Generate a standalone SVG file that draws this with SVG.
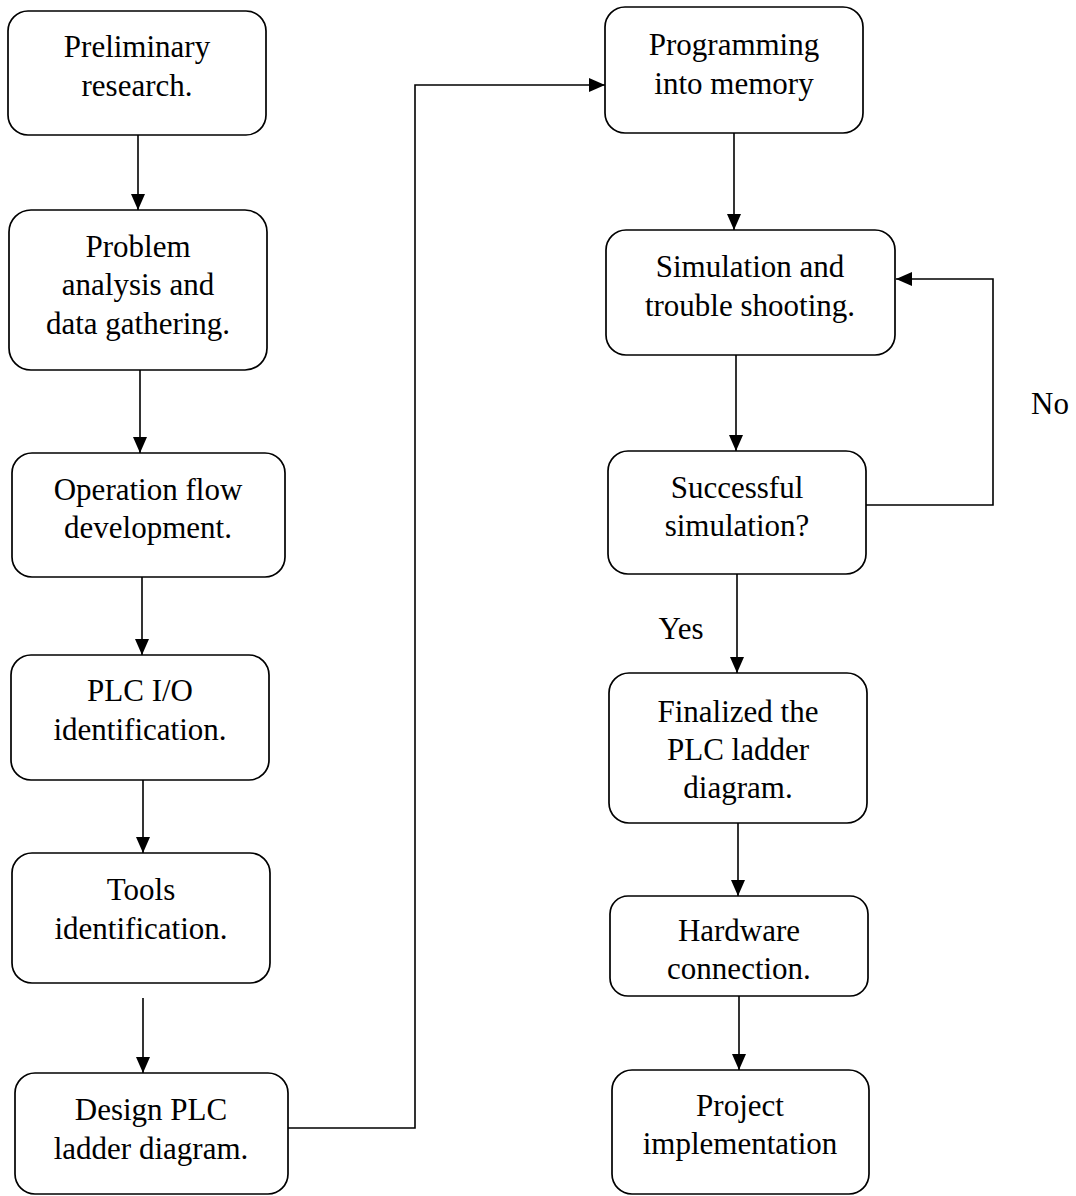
<svg xmlns="http://www.w3.org/2000/svg" width="1076" height="1196" viewBox="0 0 1076 1196">
<style>
.box{fill:#fff;stroke:#000;stroke-width:1.7}
.t{font-family:"Liberation Serif","Times New Roman",serif;font-size:31px;fill:#000;text-anchor:middle}
.c{fill:none;stroke:#000;stroke-width:1.6}
</style>
<defs>
<marker id="ah" viewBox="0 0 16 14" refX="16" refY="7" markerWidth="16" markerHeight="14" markerUnits="userSpaceOnUse" orient="auto">
<path d="M0,0 L16,7 L0,14 Z" fill="#000"/>
</marker>
</defs>
<rect width="1076" height="1196" fill="#fff"/>
<g id="connectors">
<line class="c" x1="138" y1="135" x2="138" y2="210" marker-end="url(#ah)"/>
<line class="c" x1="140" y1="370" x2="140" y2="453" marker-end="url(#ah)"/>
<line class="c" x1="142" y1="577" x2="142" y2="655" marker-end="url(#ah)"/>
<line class="c" x1="143" y1="780" x2="143" y2="853" marker-end="url(#ah)"/>
<line class="c" x1="143" y1="998" x2="143" y2="1073" marker-end="url(#ah)"/>
<polyline class="c" points="288,1128 415,1128 415,85 605,85" marker-end="url(#ah)"/>
<line class="c" x1="734" y1="133" x2="734" y2="230" marker-end="url(#ah)"/>
<line class="c" x1="736" y1="355" x2="736" y2="451" marker-end="url(#ah)"/>
<polyline class="c" points="866,505 993,505 993,279 896,279" marker-end="url(#ah)"/>
<line class="c" x1="737" y1="574" x2="737" y2="673" marker-end="url(#ah)"/>
<line class="c" x1="738" y1="823" x2="738" y2="896" marker-end="url(#ah)"/>
<line class="c" x1="739" y1="996" x2="739" y2="1070" marker-end="url(#ah)"/>
<text class="t" x="1050" y="414">No</text>
<text class="t" x="681" y="639">Yes</text>
</g>
<g id="n1"><rect class="box" x="8" y="11" width="258" height="124" rx="20"/>
<text class="t" x="137" y="57">Preliminary</text><text class="t" x="137" y="96">research.</text></g>
<g id="n2"><rect class="box" x="9" y="210" width="258" height="160" rx="22"/>
<text class="t" x="138" y="257">Problem</text><text class="t" x="138" y="295">analysis and</text><text class="t" x="138" y="334">data gathering.</text></g>
<g id="n3"><rect class="box" x="12" y="453" width="273" height="124" rx="20"/>
<text class="t" x="148" y="500">Operation flow</text><text class="t" x="148" y="538">development.</text></g>
<g id="n4"><rect class="box" x="11" y="655" width="258" height="125" rx="20"/>
<text class="t" x="140" y="701">PLC I/O</text><text class="t" x="140" y="740">identification.</text></g>
<g id="n5"><rect class="box" x="12" y="853" width="258" height="130" rx="20"/>
<text class="t" x="141" y="900">Tools</text><text class="t" x="141" y="939">identification.</text></g>
<g id="n6"><rect class="box" x="15" y="1073" width="273" height="121" rx="20"/>
<text class="t" x="151" y="1120">Design PLC</text><text class="t" x="151" y="1159">ladder diagram.</text></g>
<g id="n7"><rect class="box" x="605" y="7" width="258" height="126" rx="20"/>
<text class="t" x="734" y="55">Programming</text><text class="t" x="734" y="94">into memory</text></g>
<g id="n8"><rect class="box" x="606" y="230" width="289" height="125" rx="20"/>
<text class="t" x="750" y="277">Simulation and</text><text class="t" x="750" y="316">trouble shooting.</text></g>
<g id="n9"><rect class="box" x="608" y="451" width="258" height="123" rx="20"/>
<text class="t" x="737" y="498">Successful</text><text class="t" x="737" y="536">simulation?</text></g>
<g id="n10"><rect class="box" x="609" y="673" width="258" height="150" rx="20"/>
<text class="t" x="738" y="722">Finalized the</text><text class="t" x="738" y="760">PLC ladder</text><text class="t" x="738" y="798">diagram.</text></g>
<g id="n11"><rect class="box" x="610" y="896" width="258" height="100" rx="18"/>
<text class="t" x="739" y="941">Hardware</text><text class="t" x="739" y="979">connection.</text></g>
<g id="n12"><rect class="box" x="612" y="1070" width="257" height="124" rx="20"/>
<text class="t" x="740" y="1116">Project</text><text class="t" x="740" y="1154">implementation</text></g>
</svg>
